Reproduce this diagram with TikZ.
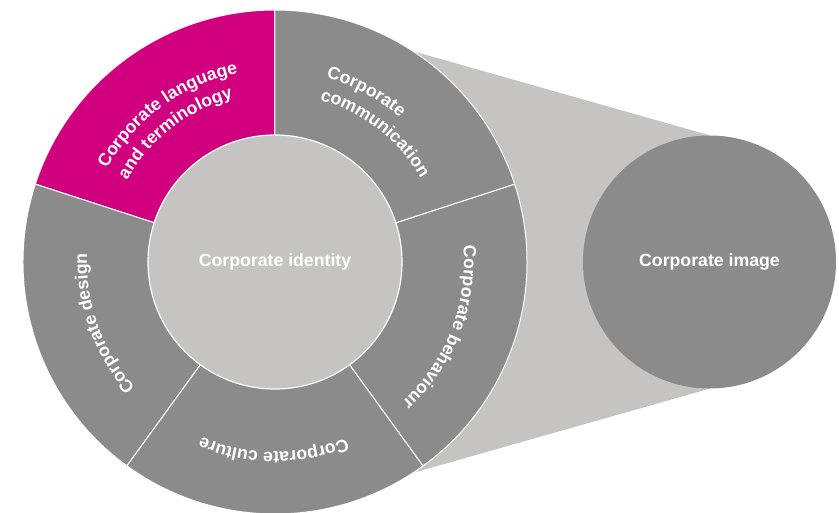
\documentclass[tikz,border=0pt]{standalone}
\usepackage{fontspec}
\setmainfont{Liberation Sans}
\usepackage{tikz}
\usetikzlibrary{decorations.text}
\usetikzlibrary{backgrounds}

\definecolor{cigray}{RGB}{139,139,139}
\definecolor{cilight}{RGB}{197,196,195}
\definecolor{cimagenta}{RGB}{208,0,126}

\newcommand{\cifont}{\bfseries\fontsize{17.7}{21}\selectfont}

\begin{document}
\begin{tikzpicture}[x=1pt, y=1pt,
   wedge/.style={fill=#1, draw=white, line width=1pt},
   bubble/.style={circle, inner sep=0pt, text=white, font=\cifont},
   ringtext/.style={decorate, decoration={text along path, text align=left,
      text color=white, text={|\cifont|#1}}}]
\useasboundingbox (-275,-250) rectangle (564,262);

   \coordinate (ring) at (0,0);

   % five segments of the ring
   \foreach \a/\c in {90/cimagenta, 162/cigray, 234/cigray, 306/cigray, 18/cigray}
      \filldraw[wedge=\c] (ring) -- ++(\a:252) arc[start angle=\a, delta angle=72, radius=252] -- cycle;

   \node[bubble, fill=cilight, draw=white, line width=1.2pt, minimum size=254pt] (identity) at (ring) {Corporate identity};
   \node[bubble, fill=cigray, minimum size=253pt] (image) at (434.5,0) {Corporate image};

   % funnel between ring and image, kept behind both
   \begin{scope}[on background layer]
      \fill[cilight] ([yshift=250pt]ring) -- (image.north) -- (image.south) -- ([yshift=-250pt]ring) -- cycle;
   \end{scope}

   % labels bent along the ring
   \path[ringtext={Corporate language}] (151:192) arc[start angle=151, end angle=80, radius=192];
   \path[ringtext={and terminology}] (151:169) arc[start angle=151, end angle=80, radius=169];
   \path[ringtext={Corporate}] (74.5:191) arc[start angle=74.5, end angle=20, radius=191];
   \path[ringtext={communication}] (74.5:168) arc[start angle=74.5, end angle=10, radius=168];
   \path[ringtext={Corporate behaviour}] (5:189) arc[start angle=5, end angle=-60, radius=189];
   \path[ringtext={Corporate culture}] (292:190) arc[start angle=292, end angle=230, radius=190];
   \path[ringtext={Corporate design}] (222:188) arc[start angle=222, end angle=160, radius=188];

\end{tikzpicture}
\end{document}
